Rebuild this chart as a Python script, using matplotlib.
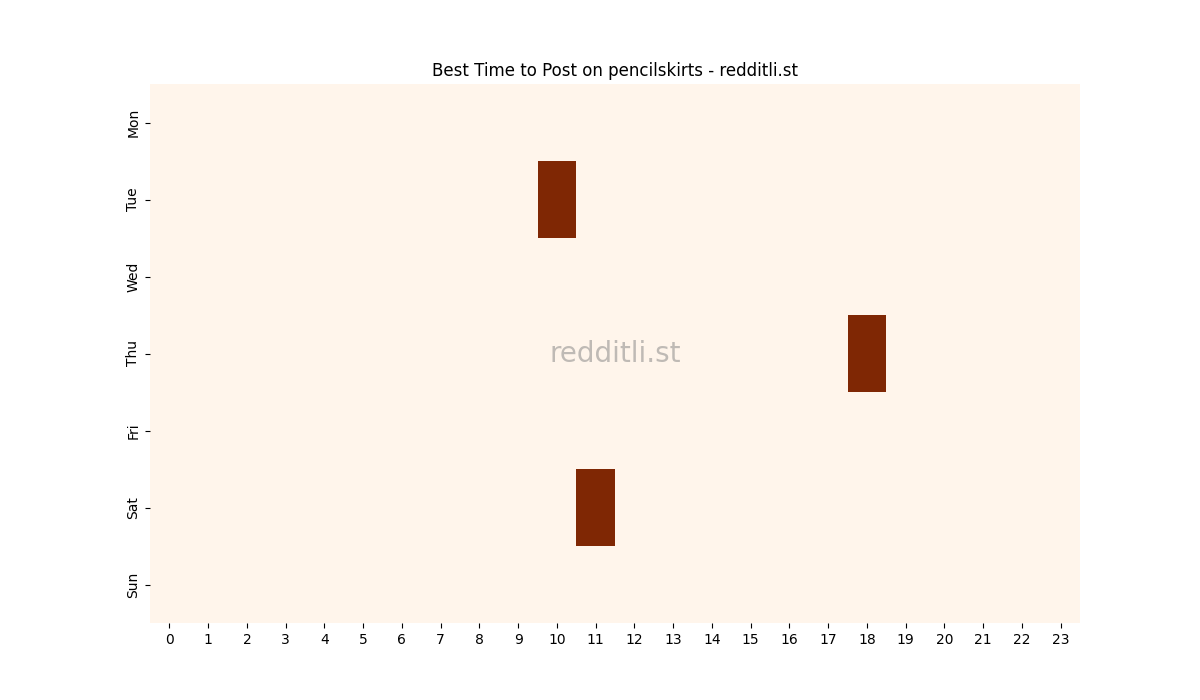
import matplotlib
matplotlib.use("Agg")
import matplotlib.pyplot as plt
import numpy as np
import seaborn as sns

days = ["Mon", "Tue", "Wed", "Thu", "Fri", "Sat", "Sun"]
hours = list(range(24))
# (day, hour) cells with posts
hot_cells = [("Tue", 10), ("Thu", 18), ("Sat", 11)]
hot_values = [1, 1, 1]

grid = np.zeros((len(days), len(hours)))
for (d, h), v in zip(hot_cells, hot_values):
    grid[days.index(d), hours.index(h)] = v

fig = plt.figure(figsize=(12, 7), dpi=100)
ax = sns.heatmap(grid, cmap="Oranges", cbar=False, xticklabels=hours, yticklabels=days)
ax.set_title("Best Time to Post on pencilskirts - redditli.st")
ax.tick_params(axis="x", rotation=0)
ax.tick_params(axis="y", rotation=90)
ax.text(0.5, 0.5, "redditli.st", transform=ax.transAxes, ha="center", va="center",
        fontsize=20, color="gray", alpha=0.5)
plt.savefig("out.png")
